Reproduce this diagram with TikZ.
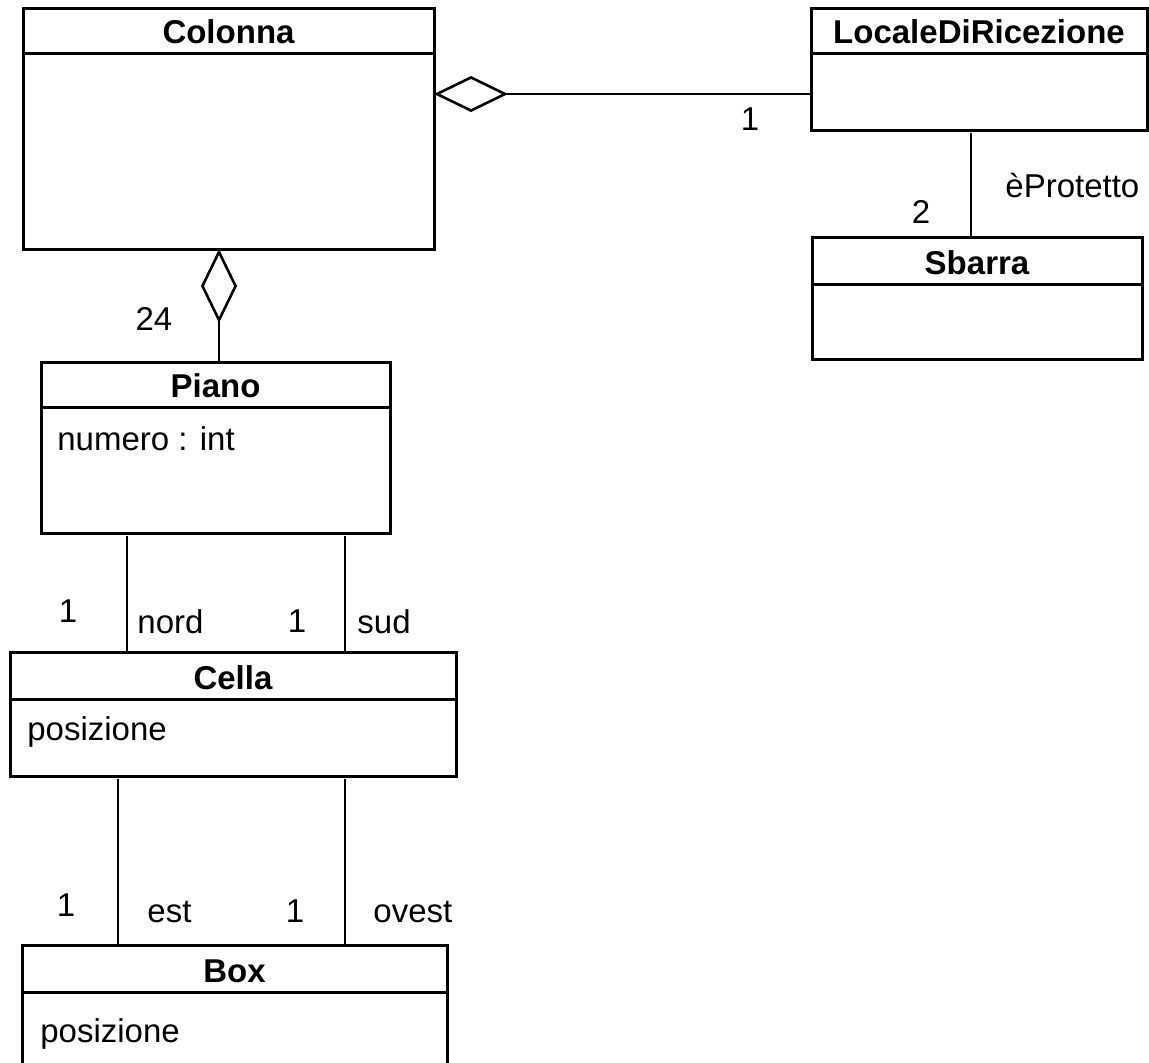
\documentclass[tikz,border=0pt]{standalone}
\usepackage{fontspec}
\setmainfont{Liberation Sans}
\usetikzlibrary{arrows.meta}

\newcommand{\umlfont}{\fontsize{16.5}{19.8}\selectfont}

% class box: name, left, top, right, bottom, divider, title
\newcommand{\umlclass}[7]{%
  \node[classbox, minimum width={(#4-#2)*0.5pt}, minimum height={(#5-#3)*0.5pt}] (#1) at ({(#2+#4)/2},{(#3+#5)/2}) {};
  \draw[line width=1.5pt] ({#2},{#6}) -- ({#4},{#6});
  \node[classname] (#1-title) at ({(#2+#4)/2},{#6-10}) {#7};
}

\tikzset{
  classbox/.style = {draw, rectangle, inner sep=0pt, outer sep=0pt, line width=1.5pt},
  classname/.style = {font=\umlfont\bfseries, anchor=base, inner sep=0pt},
  attrib/.style = {font=\umlfont, anchor=base west, inner sep=0pt},
  mult/.style = {font=\umlfont, anchor=base, inner sep=0pt},
  role/.style = {font=\umlfont, anchor=base west, inner sep=0pt},
  assoc/.style = {line width=1.3pt},
  aggr/.style = {assoc, {Diamond[open, length=37pt, width=18pt, line width=1.3pt]}-},
}

\begin{document}
\begin{tikzpicture}[x=0.5pt, y=-0.5pt]
  \useasboundingbox (0,0) rectangle (1149,1062);

  % classes
  \umlclass{colonna}{23}{8}{434}{249}{53}{Colonna}
  \umlclass{locale}{811}{8}{1147}{130}{53}{LocaleDiRicezione}
  \umlclass{sbarra}{812}{237}{1142}{359}{284}{Sbarra}
  \umlclass{piano}{41}{362}{390}{533}{407}{Piano}
  \umlclass{cella}{10}{652}{456}{776}{699}{Cella}
  \umlclass{box}{22}{945}{447}{1085}{992}{Box}

  \node[attrib] (piano-attr) at (57,450) {numero : int};
  \node[attrib] (cella-attr) at (27,740) {posizione};
  \node[attrib] (box-attr) at (40,1042) {posizione};

  % aggregations
  \coordinate (aggrY) at (0,94);
  \coordinate (pianoX) at (219,0);
  \draw[aggr] (colonna.east |- aggrY) -- (locale.west |- aggrY);
  \draw[aggr] (colonna.south -| pianoX) -- (piano.north -| pianoX);
  \node[mult] (m-locale) at (750,130) {1};
  \node[mult] (m-piano) at (154,330) {24};

  % associations
  \coordinate (protX) at (971,0);
  \coordinate (nordX) at (127,0);
  \coordinate (sudX) at (345,0);
  \coordinate (estX) at (118,0);
  \coordinate (ovestX) at (345,0);
  \draw[assoc, shorten <=1.5pt] (locale.south -| protX) -- (sbarra.north -| protX);
  \foreach \side in {nordX, sudX}
    \draw[assoc, shorten <=1.5pt] (piano.south -| \side) -- (cella.north -| \side);
  \foreach \side in {estX, ovestX}
    \draw[assoc, shorten <=1.5pt] (cella.south -| \side) -- (box.north -| \side);

  \node[role] (r-prot) at (1005,197) {èProtetto};
  \node[mult] (m-sbarra) at (921,223) {2};
  \node[mult] (m-nord) at (68,622) {1};
  \node[role] (r-nord) at (137,633) {nord};
  \node[mult] (m-sud) at (297,632) {1};
  \node[role] (r-sud) at (357,633) {sud};
  \node[mult] (m-est) at (66,916) {1};
  \node[role] (r-est) at (147,922) {est};
  \node[mult] (m-ovest) at (295,922) {1};
  \node[role] (r-ovest) at (373,922) {ovest};
\end{tikzpicture}
\end{document}
